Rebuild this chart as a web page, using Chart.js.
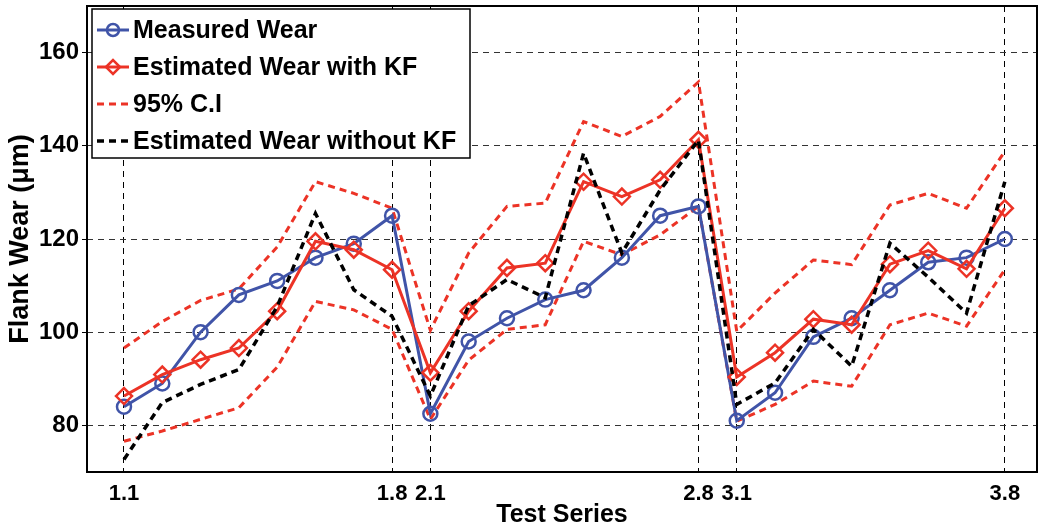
<!DOCTYPE html>
<html>
<head>
<meta charset="utf-8">
<script src="https://cdn.jsdelivr.net/npm/chart.js@4.4.0/dist/chart.umd.min.js"></script>
<style>
  body { margin: 0; background: #fff; }
  #wrap { width: 1039px; height: 530px; }
</style>
</head>
<body>
<div id="wrap"><canvas id="wearChart"></canvas></div>
<script>
// test series (x categories)
const testSeries = ['1.1','1.2','1.3','1.4','1.5','1.6','1.7','1.8',
                    '2.1','2.2','2.3','2.4','2.5','2.6','2.7','2.8',
                    '3.1','3.2','3.3','3.4','3.5','3.6','3.7','3.8'];
const shownTicks = ['1.1','1.8','2.1','2.8','3.1','3.8'];
const yTicks = [80, 100, 120, 140, 160];

// flank wear values (um)
const measuredWear = [84, 89, 100, 108, 111, 116, 119, 125,
                      82.5, 98, 103, 107, 109, 116, 125, 127,
                      81, 87, 99, 103, 109, 115, 116, 120];
const estimatedKF = [86.3, 90.9, 94.1, 96.6, 104.5, 119.5, 117.7, 113.4,
                     91.3, 104.5, 113.8, 114.8, 132.3, 129.1, 132.7, 141.3,
                     90.4, 95.6, 102.8, 101.6, 114.6, 117.5, 113.6, 126.6];
const ciUpper = [96.6, 102.3, 106.8, 109.3, 118.3, 132.3, 129.8, 126.6,
                 100.4, 117, 127, 127.7, 145.2, 142, 146.3, 153.7,
                 100.2, 108.4, 115.5, 114.5, 127.3, 129.8, 126.6, 138.8];
const ciLower = [76.6, 78.8, 81.3, 83.8, 92.5, 106.6, 104.8, 100.6,
                 81.3, 94, 100.6, 101.6, 119.5, 116.6, 120.9, 127,
                 80.9, 84.5, 89.5, 88.4, 101.6, 104.1, 101.3, 113.4];
const estimatedNoKF = [72.7, 84.9, 88.8, 92, 105.5, 125.5, 109.1, 103.4,
                       86.3, 105.7, 111.3, 107.4, 138.4, 117, 130.5, 141.2,
                       84.5, 89.1, 100.6, 92.7, 119.1, 111.8, 104.1, 132.3];

const BLUE = '#4054a8';
const RED = '#ec3326';
const FONT = "'Liberation Sans', Arial, sans-serif";

// puntos {x: indice, y: valor} para el eje lineal
const toPoints = arr => arr.map((v, i) => ({ x: i, y: v }));

// caja alrededor del area + leyenda dentro del grafico
const framePlugin = {
  id: 'frame',
  afterDraw(chart) {
    const ctx = chart.ctx;
    const a = chart.chartArea;
    ctx.save();
    ctx.strokeStyle = '#000';
    ctx.lineWidth = 2;
    ctx.setLineDash([]);
    ctx.strokeRect(a.left, a.top, a.right - a.left, a.bottom - a.top);

    // legend
    const items = chart.data.datasets.filter(d => d.legendRow !== undefined)
      .sort((p, q) => p.legendRow - q.legendRow);
    const bx = 92, by = 9, bw = 378, bh = 149;
    ctx.fillStyle = '#fff';
    ctx.fillRect(bx, by, bw, bh);
    ctx.lineWidth = 1.5;
    ctx.strokeRect(bx, by, bw, bh);
    items.forEach((d, i) => {
      const y = by + 21 + i * 37;
      ctx.strokeStyle = d.borderColor;
      ctx.lineWidth = d.borderWidth;
      ctx.setLineDash(d.borderDash || []);
      ctx.beginPath();
      ctx.moveTo(97, y);
      ctx.lineTo(129, y);
      ctx.stroke();
      if (d.pointRadius > 0) {
        ctx.setLineDash([]);
        ctx.lineWidth = d.pointBorderWidth;
        ctx.fillStyle = 'rgba(0,0,0,0)';
        Chart.helpers.drawPoint(ctx, {pointStyle: d.pointStyle, radius: d.pointRadius - 1, borderWidth: d.pointBorderWidth}, 113, y);
      }
      ctx.fillStyle = '#000';
      ctx.font = 'bold 25px ' + FONT;
      ctx.textBaseline = 'middle';
      ctx.fillText(d.label, 133, y + 1);
    });
    ctx.restore();
  }
};

const ctx = document.getElementById('wearChart').getContext('2d');
const wearChart = new Chart(ctx, {
  type: 'line',
  data: {
    datasets: [
      {
        label: 'Estimated Wear without KF',
        data: toPoints(estimatedNoKF),
        borderColor: '#000',
        borderWidth: 3.5,
        borderDash: [7, 5],
        pointRadius: 0,
        legendRow: 3,
        order: 0
      },
      {
        label: 'Measured Wear',
        data: toPoints(measuredWear),
        borderColor: BLUE,
        borderWidth: 3,
        pointStyle: 'circle',
        pointRadius: 7,
        pointBorderWidth: 2.5,
        pointBorderColor: BLUE,
        pointBackgroundColor: 'rgba(0,0,0,0)',
        legendRow: 0,
        order: 2
      },
      {
        label: 'Estimated Wear with KF',
        data: toPoints(estimatedKF),
        borderColor: RED,
        borderWidth: 3,
        pointStyle: 'rectRot',
        pointRadius: 8,
        pointBorderWidth: 2.5,
        pointBorderColor: RED,
        pointBackgroundColor: 'rgba(0,0,0,0)',
        legendRow: 1,
        order: 1
      },
      {
        label: '95% C.I',
        data: toPoints(ciUpper),
        borderColor: RED,
        borderWidth: 3,
        borderDash: [7, 5],
        pointRadius: 0,
        legendRow: 2,
        order: 3
      },
      {
        label: '95% C.I lower',
        data: toPoints(ciLower),
        borderColor: RED,
        borderWidth: 3,
        borderDash: [7, 5],
        pointRadius: 0,
        order: 3
      }
    ]
  },
  options: {
    responsive: true,
    maintainAspectRatio: false,
    animation: false,
    layout: { autoPadding: false, padding: { top: 6, right: 2, left: 0, bottom: 0 } },
    plugins: {
      legend: { display: false },
      tooltip: { enabled: false }
    },
    scales: {
      x: {
        type: 'linear',
        min: -0.966,
        max: 23.84,
        afterFit: s => { s.height = 58; },
        afterBuildTicks: s => {
          s.ticks = shownTicks.map(t => ({ value: testSeries.indexOf(t) }));
        },
        border: { display: false, dash: [6, 5] },
        grid: {
          drawTicks: true,
          tickLength: 9,
          tickColor: 'rgba(0,0,0,0)',
          color: '#000',
          lineWidth: 1
        },
        ticks: {
          autoSkip: false,
          maxRotation: 0,
          padding: 0,
          color: '#000',
          font: { family: FONT, size: 22, weight: 'bold' },
          callback: v => testSeries[v]
        },
        title: {
          display: true,
          text: 'Test Series',
          color: '#000',
          padding: { top: 0, bottom: 0 },
          font: { family: FONT, size: 25, weight: 'bold' }
        }
      },
      y: {
        min: 70,
        max: 170,
        afterFit: s => { s.width = 87; },
        afterBuildTicks: s => { s.ticks = yTicks.map(v => ({ value: v })); },
        border: { display: false, dash: [6, 5] },
        grid: {
          color: '#333',
          lineWidth: 1,
          tickLength: 5,
          tickColor: '#000'
        },
        ticks: {
          padding: 3,
          color: '#000',
          font: { family: FONT, size: 24, weight: 'bold', lineHeight: 0.1 }
        },
        title: {
          display: true,
          text: 'Flank Wear (\u03bcm)',
          color: '#000',
          padding: { top: 4, bottom: 0 },
          font: { family: FONT, size: 27, weight: 'bold' }
        }
      }
    }
  },
  plugins: [framePlugin]
});
</script>
</body>
</html>
